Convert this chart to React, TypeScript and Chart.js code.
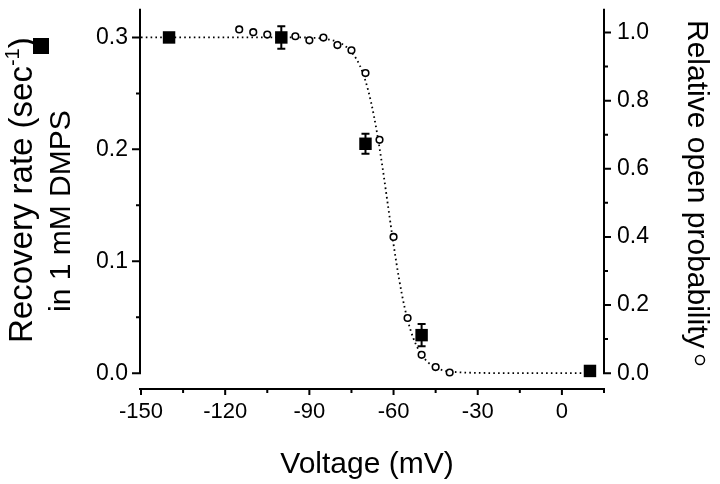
import React, { useEffect, useRef } from 'react';
import { Chart, registerables } from 'chart.js';
Chart.register(...registerables);

// Recovery rate in 1 mM DMPS (left axis, filled squares)
const rateVoltage = [-140, -100, -70, -50, 10];
const rateValues = [0.300, 0.300, 0.205, 0.034, 0.002];
const rateErrors = [0, 0.010, 0.009, 0.010, 0];

// Relative open probability (right axis, open circles)
const poVoltage = [-115, -110, -105, -95, -90, -85, -80, -75, -70, -65, -60, -55, -50, -45, -40];
const poValues = [1.009, 1.001, 0.994, 0.989, 0.977, 0.985, 0.963, 0.948, 0.881, 0.685, 0.400, 0.162, 0.054, 0.018, 0.002];

// Fitted curve (dotted)
const fitVoltage = [-150, -130, -110, -100, -90, -85, -80, -77, -74, -72, -70, -68, -66, -64, -62, -60, -58, -56, -54, -52, -50, -48, -46, -44, -42, -40, -35, -30, -20, -10, 0, 10];
const fitValues = [0.986, 0.986, 0.986, 0.986, 0.985, 0.982, 0.973, 0.959, 0.932, 0.903, 0.858, 0.795, 0.711, 0.608, 0.493, 0.378, 0.275, 0.191, 0.128, 0.084, 0.054, 0.034, 0.021, 0.013, 0.008, 0.005, 0.002, 0.001, 0, 0, 0, 0];

// Ticks
const xMajorTicks = [-150, -120, -90, -60, -30, 0];
const xMinorTicks = [-135, -105, -75, -45, -15, 15];
const leftMajorTicks = [0, 0.1, 0.2, 0.3];
const leftMinorTicks = [0.05, 0.15, 0.25];
const rightMajorTicks = [0, 0.2, 0.4, 0.6, 0.8, 1.0];
const rightMinorTicks = [0.1, 0.3, 0.5, 0.7, 0.9];

const FONT = '"Liberation Sans", Arial, Helvetica, sans-serif';

const errorBarPlugin = {
  id: 'errorBars',
  afterDatasetsDraw(chart: any) {
    const { ctx, scales } = chart;
    const x = scales.x;
    const y = scales.yL;
    ctx.save();
    ctx.strokeStyle = '#000';
    ctx.lineWidth = 2;
    rateVoltage.forEach((v, i) => {
      const e = rateErrors[i];
      if (!e) return;
      const px = x.getPixelForValue(v);
      const top = y.getPixelForValue(rateValues[i] + e);
      const bot = y.getPixelForValue(rateValues[i] - e);
      ctx.beginPath();
      ctx.moveTo(px, top);
      ctx.lineTo(px, bot);
      ctx.moveTo(px - 4, top);
      ctx.lineTo(px + 4, top);
      ctx.moveTo(px - 4, bot);
      ctx.lineTo(px + 4, bot);
      ctx.stroke();
    });
    ctx.restore();
  },
};

const axesPlugin = {
  id: 'customAxes',
  afterDraw(chart: any) {
    const { ctx, chartArea, scales } = chart;
    const x = scales.x;
    const yL = scales.yL;
    const yR = scales.yR;
    ctx.save();
    ctx.strokeStyle = '#000';
    ctx.fillStyle = '#000';
    ctx.lineWidth = 2;
    ctx.lineCap = 'butt';

    const lx = chartArea.left - 1;
    const rx = chartArea.right;
    const by = chartArea.bottom + 1;
    const zL = yL.getPixelForValue(0);
    const zR = yR.getPixelForValue(0);

    ctx.beginPath();
    // left axis
    ctx.moveTo(lx, chartArea.top);
    ctx.lineTo(lx, zL + 1);
    leftMajorTicks.forEach((v) => {
      const p = yL.getPixelForValue(v);
      ctx.moveTo(lx, p);
      ctx.lineTo(lx - 8, p);
    });
    leftMinorTicks.forEach((v) => {
      const p = yL.getPixelForValue(v);
      ctx.moveTo(lx, p);
      ctx.lineTo(lx - 4, p);
    });
    // right axis
    ctx.moveTo(rx, chartArea.top);
    ctx.lineTo(rx, zR + 1);
    rightMajorTicks.forEach((v) => {
      const p = yR.getPixelForValue(v);
      ctx.moveTo(rx, p);
      ctx.lineTo(rx + 7, p);
    });
    rightMinorTicks.forEach((v) => {
      const p = yR.getPixelForValue(v);
      ctx.moveTo(rx, p);
      ctx.lineTo(rx + 4, p);
    });
    // bottom axis
    ctx.moveTo(lx - 1, by);
    ctx.lineTo(rx + 1, by);
    xMajorTicks.forEach((v) => {
      const p = x.getPixelForValue(v);
      ctx.moveTo(p, by);
      ctx.lineTo(p, by + 6);
    });
    xMinorTicks.forEach((v) => {
      const p = x.getPixelForValue(v);
      ctx.moveTo(p, by);
      ctx.lineTo(p, by + 4);
    });
    ctx.stroke();

    // x title
    ctx.font = `30px ${FONT}`;
    ctx.textAlign = 'center';
    ctx.textBaseline = 'alphabetic';
    ctx.fillText('Voltage (mV)', 367, 473);

    // left title (two lines, rotated)
    ctx.save();
    ctx.translate(32, 343);
    ctx.rotate(-Math.PI / 2);
    ctx.textAlign = 'left';
    ctx.font = `33px ${FONT}`;
    const part1 = 'Recovery rate (sec';
    ctx.fillText(part1, 0, 0);
    let cx = ctx.measureText(part1).width;
    ctx.font = `20px ${FONT}`;
    ctx.fillText('-1', cx, -13);
    cx += ctx.measureText('-1').width;
    ctx.font = `33px ${FONT}`;
    ctx.fillText(')', cx, 0);
    ctx.restore();

    ctx.save();
    ctx.translate(70, 312);
    ctx.rotate(-Math.PI / 2);
    ctx.textAlign = 'left';
    ctx.font = `30px ${FONT}`;
    ctx.fillText('in 1 mM DMPS', 0, 0);
    ctx.restore();

    // square symbol next to left title
    ctx.fillRect(33, 38, 16, 16);

    // right title (rotated clockwise)
    ctx.save();
    ctx.translate(688, 20);
    ctx.rotate(Math.PI / 2);
    ctx.textAlign = 'left';
    ctx.font = `30px ${FONT}`;
    ctx.fillText('Relative open probability', 0, 0);
    ctx.restore();

    // circle symbol after right title
    ctx.lineWidth = 1.5;
    ctx.beginPath();
    ctx.arc(700, 360, 4.5, 0, Math.PI * 2);
    ctx.stroke();

    ctx.restore();
  },
};

export default function App() {
  const canvasRef = useRef<HTMLCanvasElement | null>(null);

  useEffect(() => {
    const canvas = canvasRef.current;
    if (!canvas) return;
    Chart.defaults.font.family = FONT;
    Chart.defaults.color = '#000';

    const chart = new Chart(canvas, {
      type: 'scatter',
      data: {
        datasets: [
          {
            label: 'Rate',
            data: rateVoltage.map((v, i) => ({ x: v, y: rateValues[i] })),
            yAxisID: 'yL',
            pointStyle: 'rect',
            pointRadius: 8.8,
            pointBackgroundColor: '#000',
            pointBorderColor: '#000',
            pointBorderWidth: 0,
            showLine: false,
            order: 1,
            clip: false,
          } as any,
          {
            label: 'Po',
            data: poVoltage.map((v, i) => ({ x: v, y: poValues[i] })),
            yAxisID: 'yR',
            pointStyle: 'circle',
            pointRadius: 3.3,
            pointBackgroundColor: '#fff',
            pointBorderColor: '#000',
            pointBorderWidth: 1.6,
            showLine: false,
            order: 2,
            clip: false,
          } as any,
          {
            label: 'Fit',
            data: fitVoltage.map((v, i) => ({ x: v, y: fitValues[i] })),
            yAxisID: 'yR',
            showLine: true,
            borderColor: '#000',
            borderWidth: 1.8,
            borderDash: [1.6, 3.2],
            pointRadius: 0,
            fill: false,
            cubicInterpolationMode: 'monotone',
            order: 3,
            clip: false,
          } as any,
        ],
      },
      options: {
        animation: false,
        responsive: false,
        layout: { padding: { top: 4, left: 0, right: 0, bottom: 0 } },
        plugins: {
          legend: { display: false },
          tooltip: { enabled: false },
        },
        scales: {
          x: {
            type: 'linear',
            position: 'bottom',
            min: -150,
            max: 15,
            grid: { display: false, drawTicks: false },
            border: { display: false },
            ticks: {
              autoSkip: false,
              maxRotation: 0,
              padding: 11,
              color: '#000',
              font: { size: 22, family: FONT },
              callback: (v: any) => String(v),
            },
            afterBuildTicks: (s: any) => {
              s.ticks = xMajorTicks.map((v) => ({ value: v }));
            },
            afterFit: (s: any) => {
              s.height = 96;
              s.paddingLeft = 0;
              s.paddingRight = 0;
            },
          },
          yL: {
            type: 'linear',
            position: 'left',
            min: -0.01324,
            max: 0.3256,
            grid: { display: false, drawTicks: false },
            border: { display: false },
            ticks: {
              padding: 13,
              color: '#000',
              font: { size: 23, family: FONT },
              callback: (v: any) => Number(v).toFixed(1),
            },
            afterBuildTicks: (s: any) => {
              s.ticks = leftMajorTicks.map((v) => ({ value: v }));
            },
            afterFit: (s: any) => {
              s.width = 141;
              s.paddingTop = 0;
              s.paddingBottom = 0;
            },
          },
          yR: {
            type: 'linear',
            position: 'right',
            min: -0.04348,
            max: 1.0696,
            grid: { display: false, drawTicks: false },
            border: { display: false },
            ticks: {
              padding: 13,
              color: '#000',
              font: { size: 23, family: FONT },
              callback: (v: any) => Number(v).toFixed(1),
            },
            afterBuildTicks: (s: any) => {
              s.ticks = rightMajorTicks.map((v) => ({ value: v }));
            },
            afterFit: (s: any) => {
              s.width = 116;
              s.paddingTop = 0;
              s.paddingBottom = 0;
            },
          },
        },
      } as any,
      plugins: [errorBarPlugin, axesPlugin],
    });

    return () => {
      chart.destroy();
    };
  }, []);

  return (
    <div style={{ position: 'fixed', left: 0, top: 0, width: 720, height: 484, background: '#fff' }}>
      <canvas ref={canvasRef} width={720} height={484} style={{ display: 'block', width: 720, height: 484 }} />
    </div>
  );
}
